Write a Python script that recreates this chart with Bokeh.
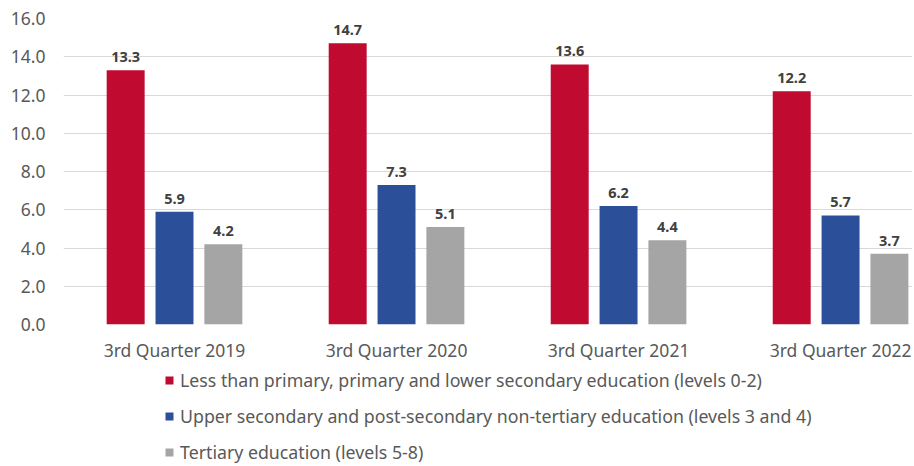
from bokeh.plotting import figure
from bokeh.layouts import column
from bokeh.models import ColumnDataSource, Range1d, FixedTicker, Legend, LegendItem
from bokeh.core.properties import value
from bokeh.embed import file_html
from bokeh.resources import INLINE

categories = ["3rd Quarter 2019", "3rd Quarter 2020", "3rd Quarter 2021", "3rd Quarter 2022"]
series_names = [
    "Less than primary, primary and lower secondary education (levels 0-2)",
    "Upper secondary and post-secondary non-tertiary education (levels 3 and 4)",
    "Tertiary education (levels 5-8)",
]
low_edu = [13.3, 14.7, 13.6, 12.2]
mid_edu = [5.9, 7.3, 6.2, 5.7]
high_edu = [4.2, 5.1, 4.4, 3.7]
y_ticks = [0, 2, 4, 6, 8, 10, 12, 14, 16]

colors = ["#C00A30", "#2B5099", "#A5A5A5"]
offsets = [-0.22, 0.0, 0.22]
bar_width = 0.171
FONT = "Noto Sans"
W = 912

p = figure(width=W, height=364, output_backend="svg", toolbar_location=None,
           x_range=Range1d(-0.5, 3.324), y_range=Range1d(0, 16),
           min_border_left=63, min_border_top=18, min_border_right=0,
           min_border_bottom=39)
p.outline_line_color = None
p.xgrid.grid_line_color = None
p.ygrid.grid_line_color = "#D9D9D9"
p.ygrid.grid_line_width = 1
p.ygrid.ticker = FixedTicker(ticks=y_ticks)

p.yaxis.ticker = FixedTicker(ticks=y_ticks)
p.yaxis.major_label_overrides = {t: f"{t:.1f}" for t in y_ticks}
p.xaxis.ticker = FixedTicker(ticks=list(range(len(categories))))
p.xaxis.major_label_overrides = {i: c for i, c in enumerate(categories)}
for ax in (p.xaxis[0], p.yaxis[0]):
    ax.axis_line_color = None
    ax.major_tick_line_color = None
    ax.minor_tick_line_color = None
    ax.major_tick_out = 0
    ax.major_tick_in = 0
    ax.major_label_text_font = FONT
    ax.major_label_text_font_size = "17.5px"
    ax.major_label_text_color = "#595959"
p.yaxis.major_label_standoff = 18
p.xaxis.major_label_standoff = 13

for name, vals, col, off in zip(series_names, [low_edu, mid_edu, high_edu], colors, offsets):
    src = ColumnDataSource(dict(
        x=[i + off for i in range(len(categories))],
        top=vals,
        lab=[f"{v:.1f}" for v in vals],
    ))
    p.vbar(x="x", top="top", width=bar_width, source=src, fill_color=col, line_color=None)
    p.text(x="x", y="top", text="lab", source=src, text_align="center", text_baseline="bottom",
           y_offset=-8, text_font=value(FONT), text_font_style="bold", text_font_size="14.5px",
           text_color="#404040")

# legend panel below the chart (swatch renderers lie outside the visible range)
lg = figure(width=W, height=100, output_backend="svg", toolbar_location=None,
            x_axis_location=None, y_axis_location=None,
            x_range=Range1d(0, 1), y_range=Range1d(0, 1),
            min_border=0)
lg.outline_line_color = None
lg.grid.grid_line_color = None
items = []
for name, col in zip(series_names, colors):
    dr = lg.vbar(x=[-10], top=[-10], width=0.1, fill_color=col, line_color=None)
    items.append(LegendItem(label=name, renderers=[dr]))
legend = Legend(items=items, location=(101, 0), orientation="vertical",
                glyph_width=10, glyph_height=10, label_height=18, spacing=12,
                label_standoff=6, padding=0, margin=0,
                label_text_font=FONT, label_text_font_size="17.75px", label_text_color="#595959",
                border_line_color=None, background_fill_alpha=0)
lg.add_layout(legend, "center")

layout = column(p, lg, spacing=0)
open("out.html", "w").write(file_html(layout, INLINE))
